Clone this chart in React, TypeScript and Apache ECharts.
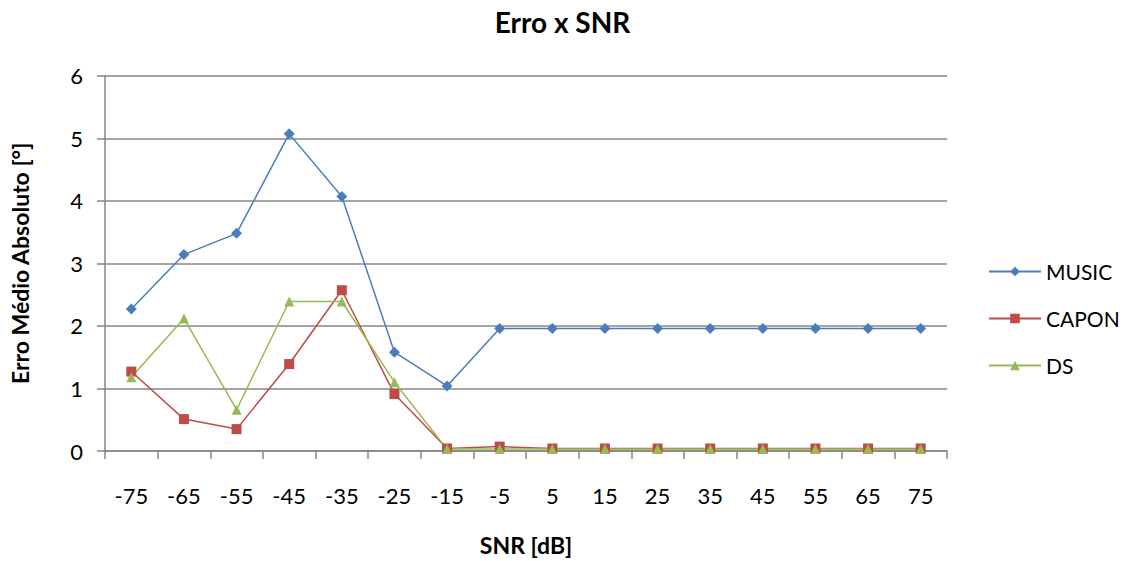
import React, { useEffect, useRef } from "react";
import * as echarts from "echarts";

const categories = ["-75", "-65", "-55", "-45", "-35", "-25", "-15", "-5", "5", "15", "25", "35", "45", "55", "65", "75"];
const music = [2.27, 3.14, 3.48, 5.07, 4.07, 1.58, 1.04, 1.96, 1.96, 1.96, 1.96, 1.96, 1.96, 1.96, 1.96, 1.96];
const capon = [1.27, 0.51, 0.35, 1.39, 2.57, 0.91, 0.04, 0.07, 0.04, 0.04, 0.04, 0.04, 0.04, 0.04, 0.04, 0.04];
const ds = [1.18, 2.12, 0.66, 2.39, 2.39, 1.1, 0.03, 0.03, 0.03, 0.03, 0.03, 0.03, 0.03, 0.03, 0.03, 0.03];

const FONT = "Lato, 'Open Sans', sans-serif";

export default function App() {
  const ref = useRef<HTMLDivElement>(null);
  useEffect(() => {
    if (!ref.current) return;
    const chart = echarts.init(ref.current, null, { renderer: "svg" });
    const mk = (name: string, data: number[], color: string, symbol: string, size: number) => ({
      name,
      type: "line",
      data,
      symbol,
      symbolSize: size,
      showAllSymbol: true,
      lineStyle: { color, width: 1.5 },
      itemStyle: { color },
      emphasis: { disabled: true },
    });
    chart.setOption({
      animation: false,
      backgroundColor: "#ffffff",
      textStyle: { fontFamily: FONT },
      title: {
        text: "Erro x SNR",
        left: "center",
        top: 8,
        padding: 0,
        textStyle: { fontFamily: FONT, fontSize: 28, fontWeight: "bold", color: "#000" },
      },
      legend: {
        orient: "vertical",
        left: 988,
        top: 261,
        padding: 0,
        itemGap: 26,
        itemWidth: 52,
        itemHeight: 12,
        textStyle: { fontFamily: FONT, fontSize: 21, color: "#000" },
        data: ["MUSIC", "CAPON", "DS"],
      },
      grid: { left: 95.7, right: 178, top: 75.7, bottom: 105, containLabel: false },
      xAxis: {
        type: "category",
        data: categories,
        boundaryGap: true,
        name: "SNR [dB]",
        nameLocation: "middle",
        nameGap: 82,
        nameTextStyle: { fontFamily: FONT, fontSize: 23, fontWeight: "bold", color: "#000" },
        axisLine: { lineStyle: { color: "#868686", width: 1.5 } },
        axisTick: { show: true, alignWithLabel: false, length: 8, lineStyle: { color: "#868686", width: 1.5 } },
        axisLabel: { fontFamily: FONT, fontSize: 22, color: "#000", margin: 33, interval: 0 },
        splitLine: { show: false },
      },
      yAxis: {
        type: "value",
        min: 0,
        max: 6,
        interval: 1,
        name: "Erro Médio Absoluto [°]",
        nameLocation: "middle",
        nameGap: 74,
        nameTextStyle: { fontFamily: FONT, fontSize: 23, fontWeight: "bold", color: "#000" },
        axisLine: { show: true, lineStyle: { color: "#868686", width: 1.5 } },
        axisTick: { show: true, length: 8, lineStyle: { color: "#868686", width: 1.5 } },
        axisLabel: { fontFamily: FONT, fontSize: 22, color: "#000", margin: 22 },
        splitLine: { show: true, lineStyle: { color: "#878787", width: 1.5 } },
      },
      series: [
        mk("MUSIC", music, "#4a7ebb", "diamond", 11),
        mk("CAPON", capon, "#be4b48", "rect", 10),
        mk("DS", ds, "#98b954", "triangle", 10),
      ],
    });
    return () => chart.dispose();
  }, []);
  return <div ref={ref} style={{ position: "fixed", left: 0, top: 0, width: 1125, height: 561 }} />;
}
